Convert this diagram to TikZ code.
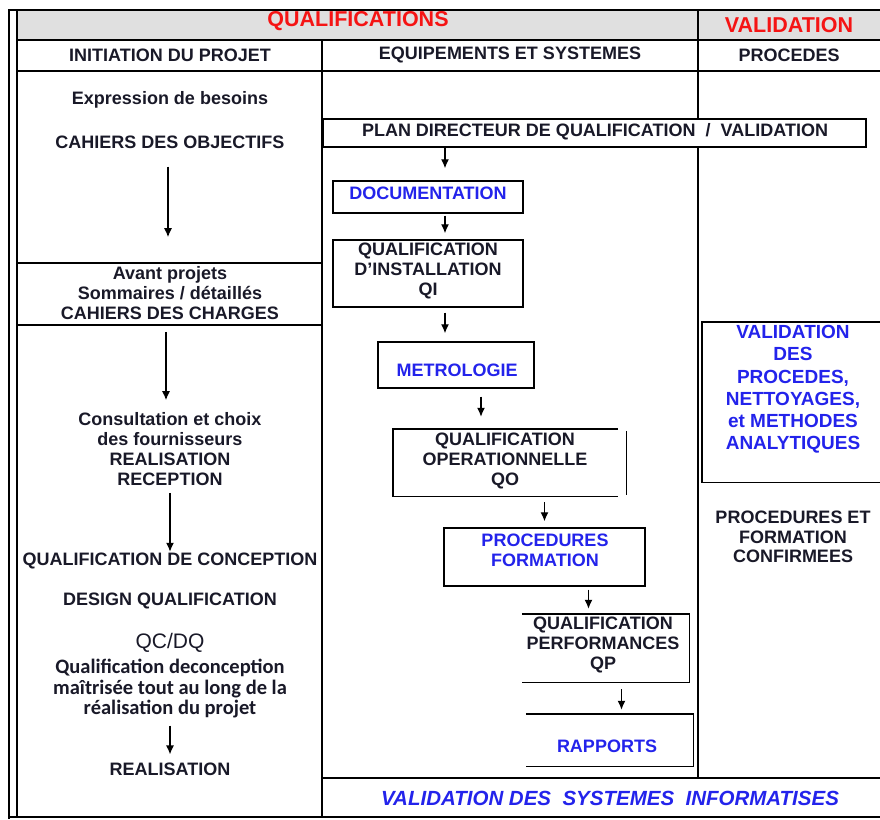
\documentclass[tikz,border=0pt]{standalone}
\usepackage{fontspec}
\setmainfont{Liberation Sans}
\newfontfamily\calfont{Carlito}
\usetikzlibrary{calc,arrows.meta}
\definecolor{hdrgray}{RGB}{224,224,224}
\definecolor{txtblue}{RGB}{35,35,235}
\definecolor{txtred}{RGB}{245,20,20}
\definecolor{ink}{RGB}{25,25,40}
\begin{document}
\begin{tikzpicture}[x=1pt,y=-1pt,
  lbl/.style={inner sep=0pt,align=center,text=ink,font=\bfseries\fontsize{18}{20}\selectfont},
  bluelbl/.style={lbl,text=txtblue},
  hdr/.style={lbl,text=txtred,font=\bfseries\fontsize{21.5}{24}\selectfont},
  boxed/.style={draw,line width=1.4pt,fill=white,inner sep=0pt},
  hollow/.style={inner sep=0pt},
  arr/.style={-{Latex[length=9pt,width=8pt]},line width=1.3pt},
  rule/.style={line width=1.4pt},
  thick rule/.style={line width=2.6pt}]
  \useasboundingbox (0,0) rectangle (880,819);
  % frame and table
  \fill[hdrgray] (17,10) rectangle (880,40);
  \draw[line width=1.8pt] (9,819) -- (9,10) -- (880,10);
  \draw[line width=1.8pt] (17,10) -- (17,817) -- (880,817) (9,817) -- (17,817);
  \draw[rule] (17,40) -- (880,40) (17,71) -- (880,71);
  \draw[rule] (322,40) -- (322,817) (698,10) -- (698,778) (322,778) -- (880,778);
  \draw[rule] (17,263) -- (322,263);
  \draw[thick rule] (17,325) -- (322,325);
  % headers
  \path (358,21) node[hdr] (hq) {QUALIFICATIONS} (789,25) node[hdr] (hv) {VALIDATION}
  (170,55) node[lbl] (hinit) {INITIATION DU PROJET} (510,55) node[lbl] (hequip) {EQUIPEMENTS ET SYSTEMES}
  (789,55) node[lbl] (hproc) {PROCEDES};
  % left column
  \path (170,100) node[lbl] (expr) {Expression de besoins} (170,142) node[lbl] (obj) {CAHIERS DES OBJECTIFS}
  (170,293) node[lbl] (avant) {Avant projets\\Sommaires / détaillés\\CAHIERS DES CHARGES}
  (170,449) node[lbl] (consult) {Consultation et choix\\des fournisseurs\\REALISATION\\RECEPTION}
  (170,561) node[lbl] (qcconc) {QUALIFICATION DE CONCEPTION}
  (170,601) node[lbl] (dq) {DESIGN QUALIFICATION}
  (170,643) node[lbl,font=\fontsize{21}{24}\selectfont] (qcdq) {QC/DQ}
  (170,689) node[lbl,font=\calfont\bfseries\fontsize{20.5}{20.5}\selectfont] (maitr) {Qualification deconception\\maîtrisée tout au long de la\\réalisation du projet}
  (170,769) node[lbl] (real) {REALISATION};
  \draw[arr] ([xshift=-2pt,yshift=-18pt]obj.south) -- ([xshift=-2pt,yshift=29pt]avant.north);
  \draw[arr] ([xshift=-4pt,yshift=-12pt]avant.south) -- ([xshift=-4pt,yshift=12pt]consult.north);
  \draw[arr] ([yshift=-7pt]consult.south) -- ([yshift=1pt]qcconc.north);
  \draw[arr] ([yshift=-7pt]maitr.south) -- ([yshift=8pt]real.north);
  % middle column
  \path (594.5,133) node[boxed,minimum width=543,minimum height=28] (plan) {}
  (428,197) node[boxed,minimum width=190,minimum height=32] (doc) {}
  (428,273.5) node[boxed,minimum width=190,minimum height=67] (qi) {}
  (456,365) node[boxed,minimum width=156,minimum height=46] (metro) {}
  (505.5,462.5) node[hollow,minimum width=225,minimum height=67] (qo) {}
  (544.5,557) node[boxed,minimum width=201,minimum height=58] (proc) {}
  (605.5,648) node[hollow,minimum width=167,minimum height=68] (qp) {}
  (609.5,740) node[hollow,minimum width=167,minimum height=52] (rap) {};
  \draw[rule] (qo.north east) -- (qo.north west) -- (qo.south west) -- (qo.south east);
  \draw[rule] ([xshift=8pt,yshift=-2pt]qo.north east) -- ([xshift=8pt,yshift=1pt]qo.south east);
  \draw[rule] (qp.north west) -- (qp.north east) -- (qp.south east) -- (qp.south west);
  \draw[rule] (rap.north west) -- (rap.north east) -- (rap.south east) -- (rap.south west);
  \path (595,132) node[lbl] (tplan) {PLAN DIRECTEUR DE QUALIFICATION \ / \ VALIDATION}
  (428,193) node[bluelbl] (tdoc) {DOCUMENTATION}
  (428,271) node[lbl] (tqi) {QUALIFICATION\\D'INSTALLATION\\QI}
  (457,370) node[bluelbl] (tmetro) {METROLOGIE}
  (505,461) node[lbl] (tqo) {QUALIFICATION\\OPERATIONNELLE\\QO}
  (545,550) node[bluelbl] (tproc) {PROCEDURES\\FORMATION}
  (603,645) node[lbl] (tqp) {QUALIFICATION\\PERFORMANCES\\QP}
  (607,746) node[bluelbl] (trap) {RAPPORTS};
  \draw[arr] ([xshift=17pt]doc.north |- plan.south) -- ([xshift=17pt,yshift=12pt]doc.north);
  \draw[arr] ([xshift=17pt,yshift=-2pt]doc.south) -- ([xshift=17pt,yshift=6pt]qi.north);
  \draw[arr] ([xshift=17pt,yshift=-5pt]qi.south) -- ([xshift=17pt,yshift=8pt]qi.south |- metro.north);
  \draw[arr] ([xshift=25pt,yshift=-8pt]metro.south) -- ([xshift=25pt,yshift=12pt]metro.south |- qo.north);
  \draw[arr] ([yshift=-6pt]proc.north |- qo.south) -- ([yshift=6pt]proc.north);
  \draw[arr] ([xshift=44pt,yshift=-3pt]proc.south) -- ([xshift=44pt,yshift=5pt]proc.south |- qp.north);
  \draw[arr] ([xshift=16pt,yshift=-7pt]qp.south) -- ([xshift=16pt,yshift=4pt]qp.south |- rap.north);
  % right column
  \path (793,402) node[hollow,minimum width=182,minimum height=160] (valbox) {};
  \draw[rule] (valbox.north east) -- (valbox.north west) -- (valbox.south west) -- (valbox.south east);
  \path (793,389.5) node[bluelbl,font=\bfseries\fontsize{19}{22.2}\selectfont] (tval) {VALIDATION\\DES\\PROCEDES,\\NETTOYAGES,\\et METHODES\\ANALYTIQUES}
  (793,537) node[lbl,font=\bfseries\fontsize{18}{19.5}\selectfont] (tconf) {PROCEDURES ET\\FORMATION\\CONFIRMEES}
  (610,798) node[bluelbl,font=\bfseries\itshape\fontsize{20.5}{22}\selectfont] (tsys) {VALIDATION DES \ SYSTEMES \ INFORMATISES};
\end{tikzpicture}
\end{document}
